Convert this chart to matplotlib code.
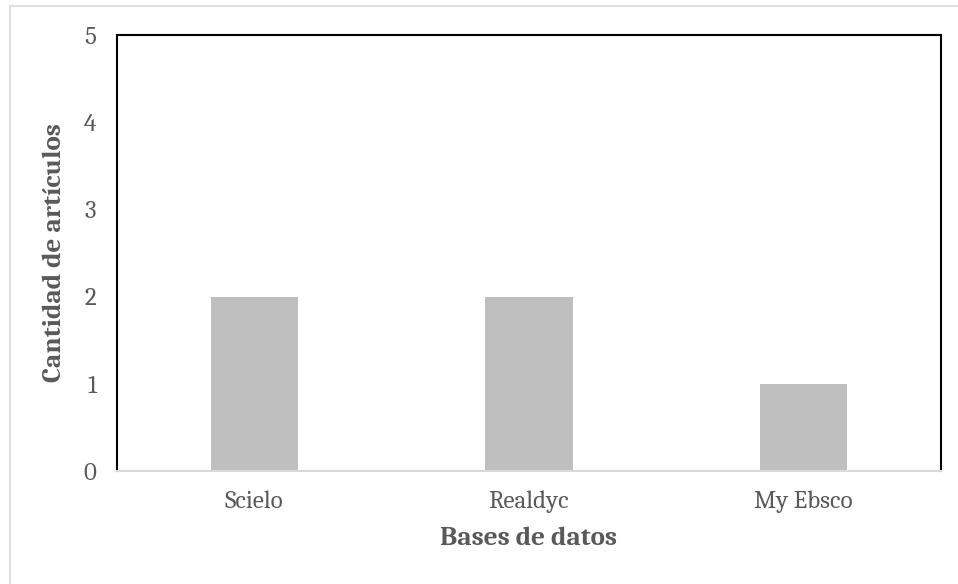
import matplotlib
matplotlib.use("Agg")
import matplotlib.pyplot as plt
import numpy as np
from matplotlib.lines import Line2D

# data
bases = ["Scielo", "Realdyc", "My Ebsco"]
articulos = [2, 2, 1]
yticks = [0, 1, 2, 3, 4, 5]

plt.rcParams['font.family'] = ['Caladea', 'DejaVu Serif']
gray_txt = "#595959"

fig = plt.figure(figsize=(9.58, 5.84), dpi=100)
W, H = 958, 584
# plot area in pixels: left 117, top 35, right 941, bottom 471
ax = fig.add_axes([117 / W, 1 - 471 / H, (941 - 117) / W, (471 - 35) / H])

x = np.arange(len(bases))
ax.bar(x, articulos, width=0.317, color="#bfbfbf", zorder=2)

ax.set_xlim(-0.5, len(bases) - 0.5)
ax.set_ylim(0, 5)
ax.set_yticks(yticks)
ax.set_xticks(x)
ax.set_xticklabels(bases)
ax.tick_params(axis="both", length=0, labelsize=18, colors=gray_txt)
ax.tick_params(axis="y", pad=15)
ax.tick_params(axis="x", pad=14)

for side in ["top", "left", "right"]:
    ax.spines[side].set_color("black")
    ax.spines[side].set_linewidth(1.5)
ax.spines["bottom"].set_color("#d9d9d9")
ax.spines["bottom"].set_linewidth(1.5)

ax.set_xlabel("Bases de datos", fontsize=19.5, fontweight="bold", color=gray_txt, labelpad=9.5)
ax.set_ylabel("Cantidad de artículos", fontsize=19.5, fontweight="bold", color=gray_txt, labelpad=12)

# outer chart frame, only top and left edges show
fig.add_artist(Line2D([10 / W, 10 / W], [0, 1 - 6 / H], transform=fig.transFigure, color="#d9d9d9", lw=1.2))
fig.add_artist(Line2D([10 / W, 1], [1 - 6 / H, 1 - 6 / H], transform=fig.transFigure, color="#d9d9d9", lw=1.2))

fig.savefig("out.png", dpi=100)
